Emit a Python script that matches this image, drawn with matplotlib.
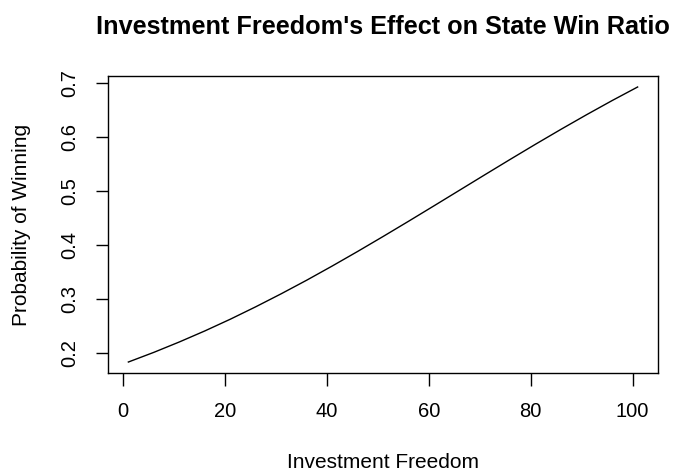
import matplotlib
matplotlib.use("Agg")
import matplotlib.pyplot as plt

# values
freedom = [1, 6, 11, 16, 21, 26, 31, 36, 41, 46, 51,
           56, 61, 66, 71, 76, 81, 86, 91, 96, 101]
win_prob = [0.1834, 0.2013, 0.2205, 0.2409, 0.2626, 0.2856, 0.3097,
            0.3348, 0.3610, 0.3880, 0.4157, 0.4439, 0.4725, 0.5013,
            0.5301, 0.5587, 0.5869, 0.6145, 0.6414, 0.6675, 0.6926]
xticks = [0, 20, 40, 60, 80, 100]
yticks = [0.2, 0.3, 0.4, 0.5, 0.6, 0.7]

plt.rcParams['font.family'] = ['Liberation Sans', 'DejaVu Sans']

fig = plt.figure(figsize=(6.75, 4.72), dpi=100)
ax = fig.add_axes([0.16, 0.2097, 0.8148, 0.6293])

ax.plot(freedom, win_prob, color='black', lw=1.0)

# R-style 4% padding
xr = max(freedom) - min(freedom)
yr = max(win_prob) - min(win_prob)
ax.set_xlim(min(freedom) - 0.04 * xr, max(freedom) + 0.04 * xr)
ax.set_ylim(min(win_prob) - 0.04 * yr, max(win_prob) + 0.04 * yr)

ax.set_xticks(xticks)
ax.set_xticklabels([str(t) for t in xticks])
ax.set_yticks(yticks)
ax.set_yticklabels([f"{t:.1f}" for t in yticks], rotation=90, va='center')

ax.tick_params(axis='both', length=9, width=1.0, pad=12, labelsize=14.5)
for s in ax.spines.values():
    s.set_linewidth(1.0)

ax.set_xlabel('Investment Freedom', fontsize=15, labelpad=23)
ax.set_ylabel('Probability of Winning', fontsize=15, labelpad=21)
ax.set_title("Investment Freedom's Effect on State Win Ratio",
             fontsize=18.2, fontweight='bold', pad=30)

fig.savefig('out.png', dpi=100)
